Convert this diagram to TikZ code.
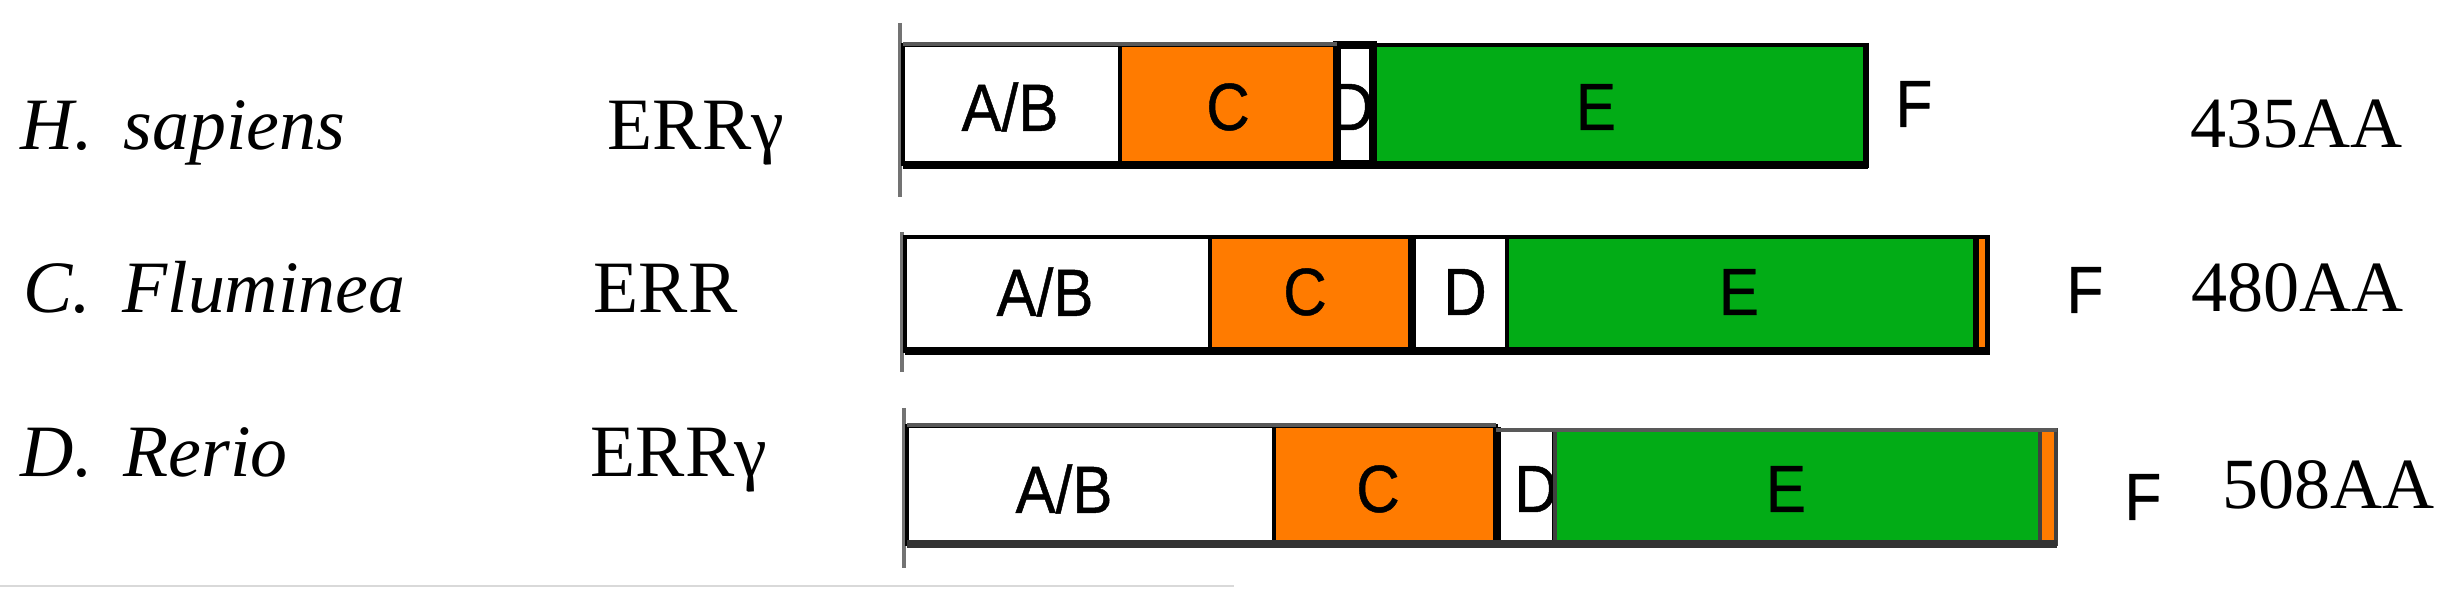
\documentclass[tikz,border=0pt]{standalone}
\usepackage{fontspec}
\setmainfont{Liberation Serif}
\newfontfamily\domfont[FakeBold=0.7]{Liberation Sans}
\definecolor{errorange}{RGB}{255,123,0}
\definecolor{errgreen}{RGB}{2,172,22}

\begin{document}
\begin{tikzpicture}[x=0.01cm, y=-0.01cm,
  species/.style={anchor=base west, inner sep=0pt, font=\fontsize{21}{25}\selectfont\itshape},
  gene/.style={anchor=base west, inner sep=0pt, font=\fontsize{21}{25}\selectfont},
  aalen/.style={anchor=base west, inner sep=0pt, font=\fontsize{20.5}{25}\selectfont},
  domlbl/.style={inner sep=0pt, font=\fontsize{19}{22}\selectfont\domfont, xscale=0.9},
  dombox/.style={draw=black, line width=0.9pt},
  axisline/.style={draw=black!55, line width=1.4pt},
  topedge/.style={draw=black!65, line width=1.4pt},
  botedge/.style={draw=black, line width=2.3pt},
]

\useasboundingbox (0,0) rectangle (2450,598);

% H. sapiens
\node[species] (hsName) at (20,150) {H.\hspace{0.42em}sapiens};
\node[gene] (hsGene) at (607,150) {ERRγ};
\draw[axisline] (900,23) -- (900,197);
\draw[dombox, fill=white] (903,45) rectangle (1120,164);
\draw[dombox, fill=errorange] (1120,45) rectangle (1336,164);
\draw[dombox, line width=2pt, fill=white] (1337,45) rectangle (1373,164);
\begin{scope}
\clip (1340,48) rectangle (1369,161);
\node[domlbl] (hsD) at (1352,107) {D};
\end{scope}
\draw[dombox, fill=errgreen] (1375,45) rectangle (1865,164);
\draw[topedge] (903,44) -- (1337,44);
\draw[botedge] (903,165) -- (1868,165);
\draw[black, line width=1.7pt] (1866,43) -- (1866,168);
\node[domlbl] (hsAB) at (1010,107) {A/B};
\node[domlbl] (hsC) at (1228,107) {C};
\node[domlbl] (hsE) at (1596,107) {E};
\node[domlbl] (hsF) at (1914,104) {F};
\node[aalen] (hsLen) at (2190,148) {435AA};

% C. fluminea
\node[species] (cfName) at (23,313) {C.\hspace{0.42em}Fluminea};
\node[gene] (cfGene) at (593,313) {ERR};
\draw[axisline] (902,232) -- (902,372);
\draw[dombox, fill=white] (905,237) rectangle (1210,351);
\draw[dombox, fill=errorange] (1210,237) rectangle (1411,351);
\draw[dombox, fill=white] (1411,237) rectangle (1507,351);
\draw[black, line width=2pt] (1412,237) -- (1412,351);
\draw[dombox, fill=errgreen] (1507,237) rectangle (1975,351);
\draw[dombox, fill=errorange] (1977,237) rectangle (1987,351);
\draw[black, line width=1.4pt] (905,237) -- (1990,237);
\draw[botedge] (905,351) -- (1990,351);
\draw[black, line width=1.2pt] (1988,236) -- (1988,353);
\node[domlbl] (cfAB) at (1045,292) {A/B};
\node[domlbl] (cfC) at (1305,292) {C};
\node[domlbl] (cfD) at (1465,292) {D};
\node[domlbl] (cfE) at (1739,292) {E};
\node[domlbl] (cfF) at (2085,290) {F};
\node[aalen] (cfLen) at (2191,312) {480AA};

% D. rerio
\node[species] (drName) at (20,477) {D.\hspace{0.42em}Rerio};
\node[gene] (drGene) at (590,477) {ERRγ};
\draw[axisline] (904,408) -- (904,568);
\draw[dombox, fill=white] (907,426) rectangle (1274,544);
\draw[dombox, fill=errorange] (1274,426) rectangle (1496,544);
\draw[dombox, fill=white] (1496,430) rectangle (1554,544);
\draw[black, line width=2pt] (1497,427) -- (1497,544);
\node[domlbl] (drD) at (1536,489) {D};
\draw[dombox, draw=black!75, fill=errgreen] (1555,430) rectangle (2040,544);
\draw[dombox, draw=black!75, fill=errorange] (2040,430) rectangle (2056,544);
\draw[topedge] (907,425) -- (1496,425);
\draw[topedge] (1496,430) -- (2057,430);
\draw[botedge, draw=black!80] (907,544) -- (2057,544);
\node[domlbl] (drAB) at (1064,489) {A/B};
\node[domlbl] (drC) at (1378,489) {C};
\node[domlbl] (drE) at (1786,489) {E};
\node[domlbl] (drF) at (2143,497) {F};
\node[aalen] (drLen) at (2222,509) {508AA};

\draw[black!15, line width=0.6pt] (0,586) -- (1234,586);

\end{tikzpicture}
\end{document}
